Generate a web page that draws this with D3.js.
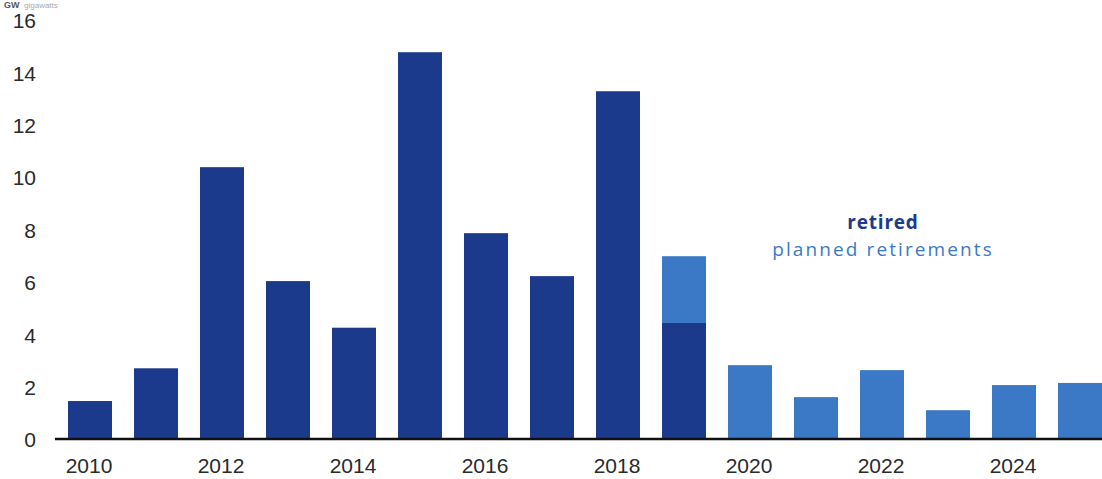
<!DOCTYPE html>
<html>
<head>
<meta charset="utf-8">
<script src="https://cdn.jsdelivr.net/npm/d3@7"></script>
<style>
html,body{margin:0;padding:0;background:#fff;}
svg{display:block;}
</style>
</head>
<body>
<svg id="chart" width="1102" height="479"></svg>
<script>
const years = [2010,2011,2012,2013,2014,2015,2016,2017,2018,2019,2020,2021,2022,2023,2024,2025];
const retired = [1.45,2.7,10.38,6.03,4.25,14.77,7.86,6.22,13.28,4.43,0,0,0,0,0,0];
const planned = [0,0,0,0,0,0,0,0,0,2.55,2.82,1.6,2.63,1.1,2.06,2.14];
const yTicks = [0,2,4,6,8,10,12,14,16];
const xTickYears = [2010,2012,2014,2016,2018,2020,2022,2024];
const seriesNames = ["retired","planned retirements"];

const darkColor = "#1c3a8b";
const lightColor = "#3b79c7";

const svg = d3.select("#chart");

const x = d3.scaleBand().domain(years).range([57,1113]).paddingInner(1/3).paddingOuter(1/6);
const y = d3.scaleLinear().domain([0,16]).range([439,20]);

// unit label at top-left (mostly cropped in the reference)
svg.append("text").attr("x",4).attr("y",8)
  .attr("font-family","Liberation Sans, Arial, sans-serif").attr("font-size",9)
  .attr("font-weight","bold").attr("fill","#555").text("GW");
svg.append("text").attr("x",24).attr("y",8)
  .attr("font-family","Liberation Sans, Arial, sans-serif").attr("font-size",8)
  .attr("fill","#aaa").text("gigawatts");

// y tick labels
svg.append("g").selectAll("text").data(yTicks).join("text")
  .attr("x",36).attr("y",d=>y(d)+1).attr("dy","0.35em")
  .attr("text-anchor","end")
  .attr("font-family","Liberation Sans, Arial, sans-serif").attr("font-size",21)
  .attr("fill","#2a2a2a").text(d=>d);

// bars
const data = years.map((yr,i)=>({yr, r:retired[i], p:planned[i]}));
svg.append("g").selectAll("rect.r").data(data.filter(d=>d.r>0)).join("rect")
  .attr("x",d=>x(d.yr)).attr("width",x.bandwidth())
  .attr("y",d=>y(d.r)).attr("height",d=>y(0)-y(d.r))
  .attr("fill",darkColor);
svg.append("g").selectAll("rect.p").data(data.filter(d=>d.p>0)).join("rect")
  .attr("x",d=>x(d.yr)).attr("width",x.bandwidth())
  .attr("y",d=>y(d.r+d.p)).attr("height",d=>y(d.r)-y(d.r+d.p))
  .attr("fill",lightColor);

// baseline
svg.append("line").attr("x1",55).attr("x2",1102).attr("y1",y(0)).attr("y2",y(0))
  .attr("stroke","#111").attr("stroke-width",2.5);

// x axis labels
svg.append("g").selectAll("text").data(xTickYears).join("text")
  .attr("x",d=>x(d)+x.bandwidth()/2-1).attr("y",y(0)+34)
  .attr("text-anchor","middle")
  .attr("font-family","Liberation Sans, Arial, sans-serif").attr("font-size",21)
  .attr("fill","#2a2a2a").text(d=>d);

// legend text
svg.append("text").attr("x",883).attr("y",222).attr("dy","0.35em").attr("text-anchor","middle")
  .attr("font-family","Open Sans, sans-serif").attr("font-size",19).attr("font-weight","bold")
  .attr("letter-spacing",0.8)
  .attr("fill",darkColor).text(seriesNames[0]);
svg.append("text").attr("x",883).attr("y",249).attr("dy","0.35em").attr("text-anchor","middle")
  .attr("font-family","Open Sans, sans-serif").attr("font-size",19)
  .attr("letter-spacing",2.1)
  .attr("fill",lightColor).text(seriesNames[1]);
</script>
</body>
</html>
